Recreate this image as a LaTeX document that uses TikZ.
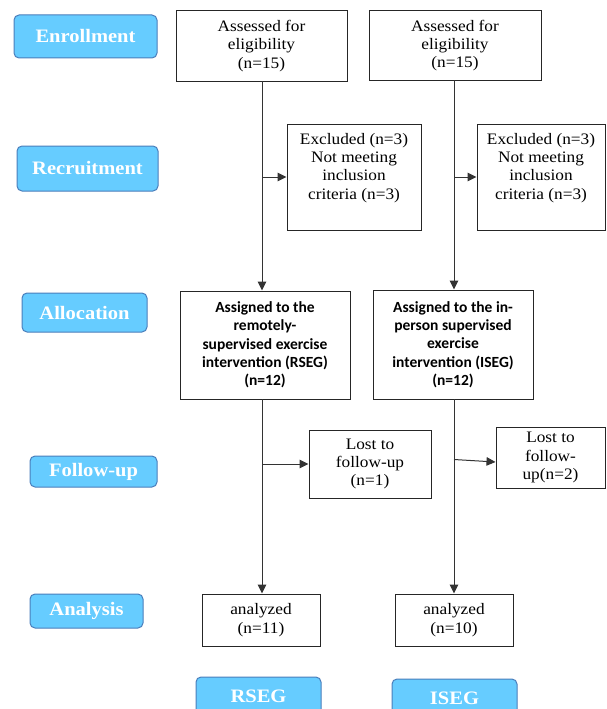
\documentclass[tikz,border=0pt]{standalone}
\usepackage{fontspec}
\setmainfont[FakeStretch=1.08]{Liberation Serif}
\newfontfamily\calib{Carlito}
\usetikzlibrary{arrows.meta}
\definecolor{stagefill}{HTML}{66CCFF}
\definecolor{stageline}{HTML}{4A7EBB}
\begin{document}
\begin{tikzpicture}[x=1pt,y=-1pt,
  stagebox/.style={draw=stageline, line width=1pt, fill=stagefill, rounded corners=5pt,
    inner sep=0pt, text=white, font=\fontsize{19}{21}\selectfont\bfseries, align=center},
  flowbox/.style={draw=black!85, line width=1pt, fill=white, inner sep=0pt, align=center,
    font=\fontsize{16}{18.3}\selectfont},
  plaintext/.style={inner sep=0pt, align=center, font=\fontsize{16}{18.3}\selectfont},
  calbox/.style={flowbox, font=\fontsize{15.5}{18.3}\selectfont\calib\bfseries},
  conn/.style={draw=black!80, line width=1pt},
  arr/.style={conn, -{Triangle[length=9pt,width=8.5pt]}}
]
\clip (0,0) rectangle (606,709);
\fill[white] (0,0) rectangle (606,709);

% stage labels
\node[stagebox, minimum width=143pt, minimum height=43pt] (enr) at (85.5,36.5) {Enrollment};
\node[stagebox, minimum width=141pt, minimum height=45pt] (rec) at (87.5,168.5) {Recruitment};
\node[stagebox, minimum width=125pt, minimum height=39pt] (alo) at (84.5,312.5) {Allocation};
\node[stagebox, minimum width=127pt, minimum height=31pt] (fol) at (93.5,471.5) {Follow-up};
\node[stagebox, minimum width=113pt, minimum height=34pt] (ana) at (86.5,611) {Analysis};
\node[stagebox, minimum width=125pt, minimum height=38pt] (rseg) at (258.5,696) {RSEG};
\node[stagebox, minimum width=125pt, minimum height=38pt] (iseg) at (454.5,698) {ISEG};

% flow boxes
\node[flowbox, minimum width=171pt, minimum height=70pt] (a1) at (261.5,46) {Assessed for\\eligibility\\(n=15)};
\node[flowbox, minimum width=172pt, minimum height=69pt] (a2) at (455,45.5) {Assessed for\\eligibility\\(n=15)};
\node[flowbox, minimum width=134pt, minimum height=106pt] (e1) at (354,177) {};
\node[plaintext] (e1t) at ([yshift=9pt]e1.center) {Excluded (n=3)\\Not meeting\\inclusion\\criteria (n=3)};
\node[flowbox, minimum width=128pt, minimum height=106pt] (e2) at (541,177) {};
\node[plaintext] (e2t) at ([yshift=9pt]e2.center) {Excluded (n=3)\\Not meeting\\inclusion\\criteria (n=3)};
\node[calbox, minimum width=170pt, minimum height=108pt] (s1) at (265,345) {Assigned to the\\remotely-\\supervised exercise\\intervention (RSEG)\\(n=12)};
\node[calbox, minimum width=160pt, minimum height=109pt] (s2) at (453,344.5) {Assigned to the in-\\person supervised\\exercise\\intervention (ISEG)\\(n=12)};
\node[flowbox, minimum width=122pt, minimum height=68pt] (l1) at (370,464) {Lost to\\follow-up\\(n=1)};
\node[flowbox, minimum width=109pt, minimum height=61pt] (l2) at (550.5,457.5) {Lost to\\follow-\\up(n=2)};
\node[flowbox, minimum width=118pt, minimum height=52pt] (n1) at (261,620) {analyzed\\(n=11)};
\node[flowbox, minimum width=118pt, minimum height=52pt] (n2) at (454,620) {analyzed\\(n=10)};

% connectors
\coordinate (c1) at (262,81);
\coordinate (c2) at (454,80);
\coordinate (c3) at (262,399);
\coordinate (c4) at (454,399);
\draw[arr] (c1) -- (c1 |- s1.north);
\draw[arr] (c1 |- e1.west) -- (e1.west);
\draw[arr] (c2) -- (c2 |- s2.north);
\draw[arr] (c2 |- e2.west) -- (e2.west);
\draw[arr] (c3) -- (c3 |- n1.north);
\draw[arr] (c3 |- l1.west) -- (l1.west);
\draw[arr] (c4) -- (c4 |- n2.north);
\draw[arr] ([yshift=-2pt]c4 |- l2.west) -- ([yshift=-4.5pt]l2.west);
\end{tikzpicture}
\end{document}
